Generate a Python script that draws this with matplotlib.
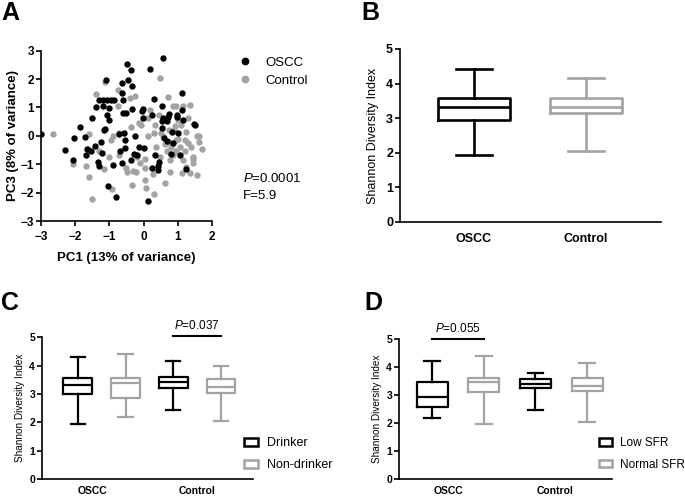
import numpy as np
import matplotlib
matplotlib.use('Agg')
import matplotlib.pyplot as plt
from matplotlib.lines import Line2D
from matplotlib.patches import Rectangle

plt.rcParams['font.family'] = ['Liberation Sans', 'DejaVu Sans']
plt.rcParams['mathtext.fontset'] = 'custom'
plt.rcParams['mathtext.rm'] = 'Liberation Sans'
plt.rcParams['mathtext.it'] = 'Liberation Sans:italic'

BLACK = '#000000'
GRAY = '#a3a3a3'

# ---- Panel A: PCA scores ----
oscc_pc1 = [-3.0, -2.3, -2.04, -2.07, -1.87, -1.71, -1.66, -1.69, -1.52, -1.55,
            -1.41, -1.38, -1.29, -1.32, -1.29, -1.22, -1.25, -1.2, -1.2, -1.17,
            -1.12, -1.1, -1.08, -1.08, -1.01, -1.0, -0.96, -0.86, -0.9, -1.05,
            -0.82, -0.64, -0.59, -0.61, -0.63, -0.73, -0.69, -0.63, -0.57, -0.55,
            -0.54, -0.51, -0.49, -0.46, -0.38, -0.35, -0.36, -0.35, -0.24, -0.27,
            -0.19, -0.12, -0.05, -0.02, -0.02, 0.01, 0.18, 0.24, 0.25, 0.32,
            0.14, 0.29, 0.42, 0.44, 0.54, 0.57, 0.55, 0.53, 0.57, 0.67,
            0.72, 0.75, 0.67, 0.79, 0.86, 0.98, 0.99, 1.12, 1.11, 1.14,
            1.01, 1.06, 1.24, 1.47, 1.5, 0.82, 0.59, 0.41]
oscc_pc3 = [0.06, -0.49, -0.06, -0.86, 0.32, -0.04, -0.45, -0.69, 0.62, -0.55,
            -0.34, 1.0, 1.28, -0.91, -1.06, -0.59, -0.21, 1.25, 1.06, 0.2,
            0.24, 1.98, 1.28, 0.75, 0.98, 0.56, 1.25, 1.25, -1.01, -1.76,
            -2.15, 1.51, 1.28, 0.8, 1.86, 0.06, -0.55, -0.96, 0.09, -0.16,
            -0.44, 0.8, 2.52, 1.98, 2.31, 0.94, -0.85, 1.76, -0.02, -0.65,
            -0.67, -0.38, 0.88, 0.94, 0.62, -0.44, 2.35, 0.74, -1.12, -0.69,
            -2.29, 1.29, -1.06, -0.91, 1.04, 2.75, 0.53, 0.27, 0.62, 0.53,
            0.68, 0.76, -0.18, -0.65, -0.26, 0.74, 0.68, 0.92, 1.51, 0.56,
            0.09, -0.67, -1.18, 0.41, 0.39, 0.15, -0.08, -1.2]
ctrl_pc1 = [-2.64, -2.06, -1.59, -1.67, -1.59, -1.51, -1.38, -1.31, -1.16, -1.14,
            -0.94, -0.92, -0.76, -0.75, -0.9, -0.71, -0.51, -0.49, -0.39, -0.26,
            -0.36, -0.31, -0.33, -0.22, -0.12, -0.07, 0.03, 0.03, 0.03, 0.08,
            0.13, 0.18, 0.27, 0.29, 0.32, 0.47, 0.57, 0.64, 0.7, 0.73,
            0.67, 0.76, 0.77, 0.86, 0.96, 0.91, 0.94, 0.96, 1.06, 1.08,
            1.16, 1.21, 1.21, 1.25, 1.3, 1.35, 1.4, 1.43, 1.45, 1.35,
            1.55, 1.55, 1.63, 1.7, 1.61, 1.11, 0.47, 0.37, 0.29, 0.52,
            0.73, 0.81, 0.86, 1.16, 1.25, 0.13, -0.2, -1.0, -0.71, -1.63,
            1.02, 0.62, 0.9, 1.3, 0.45, -0.1, 1.45, 1.0]
ctrl_pc3 = [0.06, -0.99, 0.06, -1.06, -1.46, -2.24, 1.48, -0.55, -1.18, 1.88,
            -0.14, -1.88, 1.04, 1.62, -0.02, -0.67, -1.14, -1.26, 1.32, 1.39,
            0.31, -1.24, -1.73, -1.26, 0.45, 0.39, -0.82, -1.14, -1.55, -1.85,
            -0.02, 0.92, -1.34, -2.05, 0.38, 2.04, -0.02, -1.67, 1.36, -0.2,
            -0.55, -0.85, -1.26, 1.06, 1.06, 0.33, -0.16, -0.55, -0.38, 0.39,
            1.06, -0.14, -0.55, 0.15, 0.62, 1.08, -0.38, -0.73, -0.96, -1.32,
            -1.38, -0.02, -0.02, -0.47, -0.2, -1.32, -0.73, -0.38, 0.09, 0.09,
            0.21, -0.38, -0.67, -0.85, -1.08, 0.62, -0.73, -0.73, 0.09, -0.46,
            0.55, -0.3, 0.2, -0.25, 0.75, -0.95, -0.8, -0.1]

# ---- Panel B: Shannon index by group (box stats) ----
groups_b = ['OSCC', 'Control']
b_whislo = [1.95, 2.06]
b_q1 = [2.96, 3.16]
b_med = [3.33, 3.33]
b_q3 = [3.57, 3.59]
b_whishi = [4.41, 4.15]

# ---- Panel C: drinker / non-drinker ----
legend_c = ['Drinker', 'Non-drinker']
c_whislo = [1.94, 2.20, 2.44, 2.06]
c_q1 = [2.99, 2.85, 3.22, 3.05]
c_med = [3.32, 3.38, 3.41, 3.26]
c_q3 = [3.55, 3.58, 3.61, 3.52]
c_whishi = [4.32, 4.41, 4.16, 4.00]

# ---- Panel D: low / normal SFR ----
legend_d = ['Low SFR', 'Normal SFR']
d_whislo = [2.20, 1.96, 2.47, 2.05]
d_q1 = [2.57, 3.13, 3.25, 3.16]
d_med = [2.92, 3.46, 3.39, 3.33]
d_q3 = [3.48, 3.60, 3.57, 3.60]
d_whishi = [4.22, 4.40, 3.78, 4.16]

pair_colors = [BLACK, GRAY, BLACK, GRAY]


def make_stats(lo, q1, med, q3, hi):
    return [dict(whislo=a, q1=b, med=c, q3=d, whishi=e, fliers=[])
            for a, b, c, d, e in zip(lo, q1, med, q3, hi)]


def draw_boxes(ax, stats, positions, colors, width, lw):
    for st, pos, col in zip(stats, positions, colors):
        props = dict(color=col, linewidth=lw)
        ax.bxp([st], positions=[pos], widths=width, capwidths=width * 0.5,
               showfliers=False, boxprops=props, whiskerprops=props,
               capprops=props, medianprops=props, manage_ticks=False)


def style_axes(ax, tick_fs, lw=1.2):
    for s in ['top', 'right']:
        ax.spines[s].set_visible(False)
    for s in ['left', 'bottom']:
        ax.spines[s].set_linewidth(lw)
    ax.tick_params(width=lw, length=3.5, labelsize=tick_fs, pad=1.5)
    for lab in ax.get_yticklabels():
        lab.set_fontweight('bold')


fig = plt.figure(figsize=(6.85, 4.96), dpi=100)
W, H = 685.0, 496.0


def add_ax(x0, y0, x1, y1):
    return fig.add_axes([x0 / W, 1 - y1 / H, (x1 - x0) / W, (y1 - y0) / H])


# Panel A
axA = add_ax(41, 50.7, 212, 221)
axA.scatter(ctrl_pc1, ctrl_pc3, s=21, color=GRAY, linewidths=0, zorder=2)
axA.scatter(oscc_pc1, oscc_pc3, s=21, color=BLACK, linewidths=0, zorder=3)
axA.set_xlim(-3, 2)
axA.set_ylim(-3, 3)
axA.set_xticks(range(-3, 3))
axA.set_yticks(range(-3, 4))
style_axes(axA, 8.5)
axA.tick_params(axis='x', pad=4)
for lab in axA.get_xticklabels():
    lab.set_fontweight('bold')
axA.set_xlabel('PC1 (13% of variance)', fontsize=9.5, fontweight='bold', labelpad=6)
axA.set_ylabel('PC3 (8% of variance)', fontsize=9.5, fontweight='bold', labelpad=1)
handles = [Line2D([], [], marker='o', ls='', color=BLACK, markersize=4.6),
           Line2D([], [], marker='o', ls='', color=GRAY, markersize=4.6)]
fig.legend(handles, ['OSCC', 'Control'], loc='upper left',
           bbox_to_anchor=(236 / W, 1 - 55 / H), frameon=False, fontsize=9.5,
           handletextpad=0.9, labelspacing=0.45, handlelength=1.2,
           borderaxespad=0, borderpad=0.1)
fig.text(243 / W, 1 - 178 / H, r'$\it{P}$=0.0001', fontsize=9.5, va='center')
fig.text(243 / W, 1 - 196 / H, 'F=5.9', fontsize=9.5, va='center')

# Panel B
axB = add_ax(400, 49, 661, 222)
draw_boxes(axB, make_stats(b_whislo, b_q1, b_med, b_q3, b_whishi), [0, 1],
           [BLACK, GRAY], 0.65, 1.9)
axB.set_xlim(-0.66, 1.67)
axB.set_ylim(0, 5)
axB.set_xticks([0, 1])
axB.set_xticklabels(groups_b, fontsize=9.5, fontweight='bold')
style_axes(axB, 9)
axB.tick_params(axis='x', length=0, pad=8)
axB.set_ylabel('Shannon Diversity Index', fontsize=9, labelpad=5)

# Panel C
axC = add_ax(42, 337.3, 253, 479)
draw_boxes(axC, make_stats(c_whislo, c_q1, c_med, c_q3, c_whishi),
           [0, 1, 2, 3], pair_colors, 0.6, 1.6)
axC.set_xlim(-0.75, 3.67)
axC.set_ylim(0, 5)
axC.set_xticks([0.3, 2.5])
axC.set_xticklabels(['OSCC', 'Control'], fontsize=8.5, fontweight='bold')
style_axes(axC, 7.5)
axC.tick_params(axis='x', length=0, pad=5)
axC.set_ylabel('Shannon Diversity Index', fontsize=7.2, labelpad=3)
axC.plot([2, 3], [5.05, 5.05], color=BLACK, lw=1.5, clip_on=False)
axC.text(2.5, 5.2, r'$\it{P}$=0.037', fontsize=8.5, ha='center', va='bottom')

# Panel D
axD = add_ax(399, 339.3, 612, 479)
draw_boxes(axD, make_stats(d_whislo, d_q1, d_med, d_q3, d_whishi),
           [0, 1, 2, 3], pair_colors, 0.6, 1.6)
axD.set_xlim(-0.64, 3.48)
axD.set_ylim(0, 5)
axD.set_xticks([0.31, 2.38])
axD.set_xticklabels(['OSCC', 'Control'], fontsize=8.5, fontweight='bold')
style_axes(axD, 7.5)
axD.tick_params(axis='x', length=0, pad=5)
axD.set_ylabel('Shannon Diversity Index', fontsize=7.2, labelpad=3)
axD.plot([0, 1], [5.0, 5.0], color=BLACK, lw=1.5, clip_on=False)
axD.text(0.5, 5.15, r'$\it{P}$=0.055', fontsize=8.5, ha='center', va='bottom')

# legends for C and D
for labels, x0, fs in [(legend_c, 243, 9), (legend_d, 598, 8.5)]:
    hs = [Rectangle((0, 0), 1, 1, facecolor='white', edgecolor=BLACK, lw=1.8),
          Rectangle((0, 0), 1, 1, facecolor='white', edgecolor=GRAY, lw=1.8)]
    fig.legend(hs, labels, loc='upper left', bbox_to_anchor=(x0 / W, 1 - 436 / H),
               frameon=False, fontsize=fs, handlelength=1.1, handleheight=0.55,
               handletextpad=0.7, labelspacing=0.8, borderaxespad=0,
               borderpad=0.1)

# panel letters
for letter, x, y in [('A', 1, 1), ('B', 361, 1), ('C', 1, 291), ('D', 364, 291)]:
    fig.text(x / W, 1 - y / H, letter, fontsize=18, fontweight='bold', va='top')

fig.savefig('out.png', dpi=100)
